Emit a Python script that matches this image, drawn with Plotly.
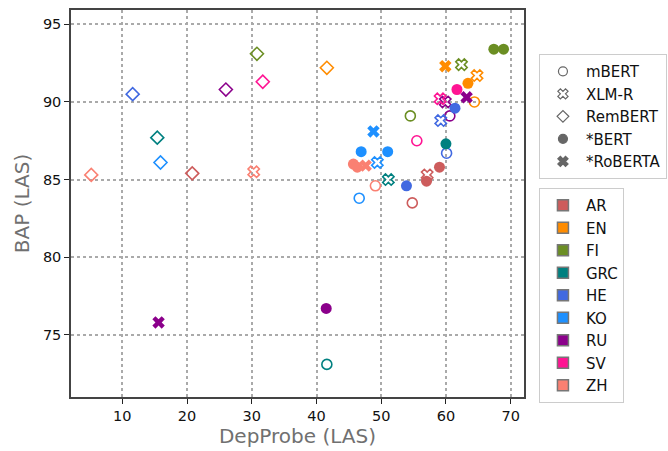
import plotly.graph_objects as go

langs = ["AR", "EN", "FI", "GRC", "HE", "KO", "RU", "SV", "ZH"]
lang_colors = ["#CD5C5C", "#FF8C00", "#6B8E23", "#008080", "#4169E1",
               "#1E90FF", "#8B008B", "#FF1493", "#FA8072"]

mbert_x = [54.8, 64.4, 54.5, 41.6, 60.1, 46.6, 60.6, 55.5, 49.1]
mbert_y = [83.5, 90.0, 89.1, 73.1, 86.7, 83.8, 89.1, 87.5, 84.6]

xlmr_x = [57.1, 64.8, 62.4, 51.1, 59.2, 49.4, 59.9, 59.1, 30.3]
xlmr_y = [85.3, 91.7, 92.4, 85.0, 88.8, 86.1, 90.0, 90.2, 85.5]

rembert_x = [20.8, 41.6, 30.8, 15.4, 11.6, 15.9, 26.0, 31.7, 5.2]
rembert_y = [85.4, 92.2, 93.1, 87.7, 90.5, 86.1, 90.8, 91.3, 85.3]

bert_lang = ["AR", "AR", "EN", "FI", "FI", "GRC", "HE", "HE", "KO", "KO", "RU", "SV", "ZH", "ZH"]
bert_x = [57.0, 59.0, 63.4, 67.4, 68.9, 60.0, 53.9, 61.4, 46.9, 51.0, 41.5, 61.7, 45.7, 46.3]
bert_y = [84.9, 85.8, 91.2, 93.4, 93.4, 87.3, 84.6, 89.6, 86.8, 86.8, 76.7, 90.8, 86.0, 85.8]

roberta_lang = ["EN", "KO", "RU", "RU", "ZH"]
roberta_x = [59.9, 48.8, 63.2, 15.6, 47.6]
roberta_y = [92.3, 88.1, 90.3, 75.8, 85.9]

model_names = ["mBERT", "XLM-R", "RemBERT", "*BERT", "*RoBERTA"]
model_symbols = ["circle-open", "x-open", "diamond-open", "circle", "x"]

cmap = dict(zip(langs, lang_colors))

fig = go.Figure()

def add_open(xs, ys, colors, symbol, size):
    fig.add_trace(go.Scatter(
        x=xs, y=ys, mode="markers", showlegend=False,
        marker=dict(symbol=symbol, size=size, color=colors,
                    line=dict(width=1.6, color=colors)),
        hoverinfo="x+y"))

add_open(rembert_x, rembert_y, lang_colors, "diamond-open", 10)
add_open(mbert_x, mbert_y, lang_colors, "circle-open", 10)
add_open(xlmr_x, xlmr_y, lang_colors, "x-open", 10)
fig.add_trace(go.Scatter(
    x=bert_x, y=bert_y, mode="markers", showlegend=False,
    marker=dict(symbol="circle", size=11, color=[cmap[l] for l in bert_lang],
                line=dict(width=0))))
fig.add_trace(go.Scatter(
    x=roberta_x, y=roberta_y, mode="markers", showlegend=False,
    marker=dict(symbol="x", size=11, color=[cmap[l] for l in roberta_lang],
                line=dict(width=0))))

# legend 1: models
for name, sym in zip(model_names, model_symbols):
    fig.add_trace(go.Scatter(
        x=[None], y=[None], mode="markers", name=name, legend="legend",
        marker=dict(symbol=sym, size=9, color="#666666",
                    line=dict(width=1.2, color="#666666"))))

# legend 2: languages
for lang, col in zip(langs, lang_colors):
    fig.add_trace(go.Scatter(
        x=[None], y=[None], mode="markers", name=lang, legend="legend2",
        marker=dict(symbol="square", size=11, color=col,
                    line=dict(width=1.5, color="#777777"))))

axis_common = dict(
    showgrid=True, gridcolor="#aaaaaa", griddash="dot", gridwidth=1.5,
    showline=True, linecolor="#444444", linewidth=1.5, mirror=True,
    ticks="outside", ticklen=5, tickwidth=1.2, tickcolor="#222222",
    tickfont=dict(family="DejaVu Sans", size=14.5, color="#111111"),
    zeroline=False,
)

fig.update_layout(
    width=668, height=451,
    margin=dict(l=71, r=144, t=10, b=54, autoexpand=False),
    paper_bgcolor="white", plot_bgcolor="white",
    font=dict(family="DejaVu Sans", size=14, color="#111111"),
    xaxis=dict(range=[2.07, 72.06], tickvals=[10, 20, 30, 40, 50, 60, 70],
               title=dict(text="DepProbe (LAS)", font=dict(size=20, color="#707070"), standoff=1),
               **axis_common),
    yaxis=dict(range=[71.0, 95.92], tickvals=[75, 80, 85, 90, 95],
               title=dict(text="BAP (LAS)", font=dict(size=20, color="#707070"), standoff=8),
               **axis_common),
    legend=dict(x=1.033, y=0.886, xanchor="left", yanchor="top",
                bordercolor="#cccccc", borderwidth=1, bgcolor="white",
                font=dict(size=15, family="DejaVu Sans"), tracegroupgap=0,
                itemwidth=36),
    legend2=dict(x=1.033, y=0.54, xanchor="left", yanchor="top",
                 bordercolor="#cccccc", borderwidth=1, bgcolor="white",
                 font=dict(size=15, family="DejaVu Sans"), tracegroupgap=0,
                 itemwidth=36),
)

fig.write_html("out.html")
